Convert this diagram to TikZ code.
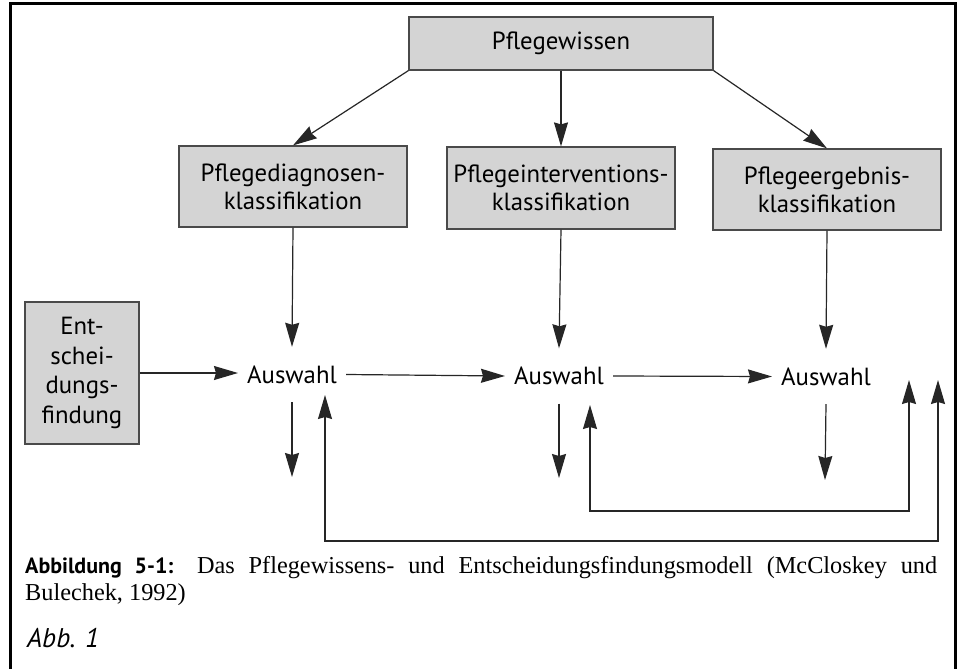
\documentclass[tikz,border=0pt]{standalone}
\usepackage{fontspec}
\setmainfont{Liberation Serif}
\setsansfont{PT Sans}
\usetikzlibrary{arrows.meta}

\definecolor{boxGray}{HTML}{D4D4D4}
\definecolor{edgeGray}{HTML}{4A4A4A}
\definecolor{lineDark}{HTML}{262626}

\begin{document}
\begin{tikzpicture}[x=1pt,y=-1pt,
  klass/.style={draw=edgeGray,line width=1.2pt,fill=boxGray,inner sep=0pt,align=center,
    font=\sffamily\fontsize{24.8}{28}\selectfont},
  aus/.style={inner xsep=9pt,inner ysep=19pt,text height=17pt,text depth=0pt,
    font=\sffamily\fontsize{24.8}{28}\selectfont},
  pfeil/.style={draw=lineDark,line width=1.2pt,-{Stealth[length=24pt,width=14pt,inset=2pt]}},
  rueck/.style={draw=lineDark,line width=1.2pt,
    {Stealth[length=24pt,width=14pt,inset=2pt]}-{Stealth[length=24pt,width=14pt,inset=2pt]}}]
\useasboundingbox (0,0) rectangle (959,669);
\fill[white] (0,0) rectangle (959,669);

% frame
\draw[line width=3pt] (10,669) -- (10,4) -- (955,4) -- (955,669);

% classification boxes
\node[klass,minimum width=304pt,minimum height=53pt] (wissen) at (561,43.5) {Pflegewissen};
\node[klass,minimum width=228pt,minimum height=81pt] (diag) at (293,186.5) {Pflegediagnosen-\\klassifikation};
\node[klass,minimum width=228pt,minimum height=82pt] (interv) at (561,188) {Pflegeinterventions-\\klassifikation};
\node[klass,minimum width=228pt,minimum height=81pt] (ergeb) at (827,189.5) {Pflegeergebnis-\\klassifikation};
\node[klass,minimum width=114pt,minimum height=142pt,font=\sffamily\fontsize{24.8}{29.5}\selectfont]
  (entsch) at (82,373) {Ent-\\schei-\\dungs-\\findung};

% Auswahl
\node[aus] (aus1) at (292,374.5) {Auswahl};
\node[aus] (aus2) at (559,376) {Auswahl};
\node[aus] (aus3) at (826,376.5) {Auswahl};

\coordinate (ab1) at (292,477);
\coordinate (ab2) at (559,478);
\coordinate (ab3) at (825,480);
\coordinate (rueck1) at (325,395);
\coordinate (rueck2) at (590,405);
\coordinate (ende1) at (938,380);
\coordinate (ende2) at (909,380);

\draw[pfeil] (wissen.south west) -- (diag.north);
\draw[pfeil] (wissen.south) -- (interv.north);
\draw[pfeil] (wissen.south east) -- (ergeb.north);

\draw[pfeil] (diag.south) -- (aus1.north);
\draw[pfeil] (interv.south) -- (aus2.north);
\draw[pfeil] (ergeb.south) -- (aus3.north);

\draw[pfeil] (entsch.east) -- (entsch.east -| aus1.west);
\draw[pfeil] (aus1.east) -- (aus2.west);
\draw[pfeil] (aus2.east) -- (aus3.west);

\draw[pfeil] (aus1.south) -- (ab1);
\draw[pfeil] (aus2.south) -- (ab2);
\draw[pfeil] (aus3.south) -- (ab3);

% feedback
\draw[rueck] (rueck1) -- (rueck1 |- 0,541) -| (ende1);
\draw[rueck] (rueck2) -- (rueck2 |- 0,511) -| (ende2);

% caption
\node[anchor=north west,inner sep=0pt,text width=912pt,align=justify,
  font=\fontsize{24.3}{27}\selectfont] (caption) at (25,556)
  {{\sffamily\bfseries\fontsize{22}{27}\selectfont Abbildung 5-1:} Das Pflegewissens- und Entscheidungsfindungsmodell (McCloskey und\linebreak Bulechek, 1992)};
\node[anchor=base west,inner sep=0pt,font=\sffamily\itshape\fontsize{27}{30}\selectfont] (abb) at (27,647) {Abb. 1};
\end{tikzpicture}
\end{document}
